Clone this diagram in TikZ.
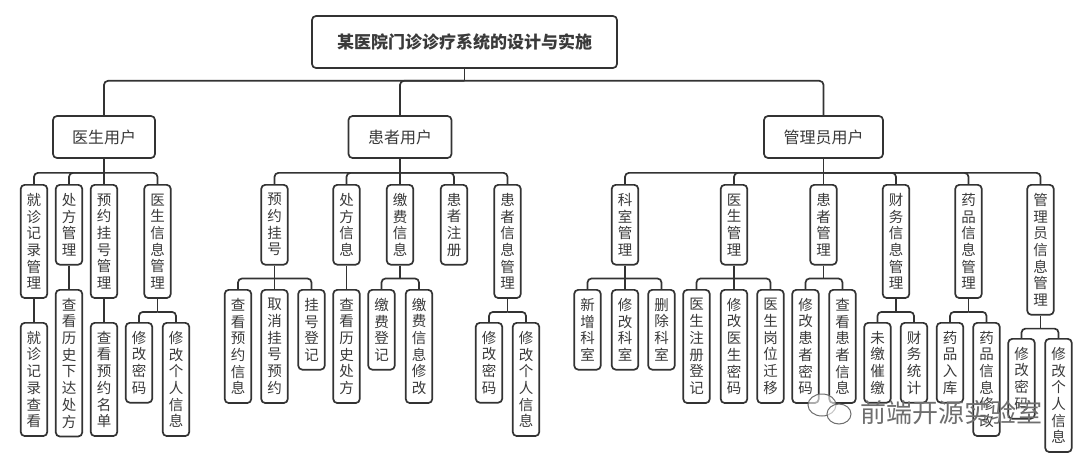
\documentclass[tikz,border=0pt]{standalone}
\usepackage{fontspec}
\setmainfont{Noto Sans CJK SC}
\usetikzlibrary{calc}
\definecolor{linec}{HTML}{333333}
\definecolor{textc}{HTML}{3A3A3A}
\definecolor{wmc}{HTML}{6E6E6E}
\tikzset{
  box/.style={draw=linec, line width=1.7pt, rounded corners=4pt, fill=white, text=textc, inner sep=0pt},
  vb/.style={box, anchor=north, minimum width=26.5pt, minimum height={(16.7*#1+13)*1pt}, align=center, font=\fontsize{14.5}{16.7}\selectfont},
  conn/.style={draw=linec, line width=1.7pt, rounded corners=4pt},
  lone/.style={box, minimum height=42pt, font=\fontsize{16}{19}\selectfont},
}
\begin{document}
\begin{tikzpicture}[x=1pt,y=-1pt]
\fill[white] (0,0) rectangle (1080,460);
\useasboundingbox (0,0) rectangle (1080,460);

% root and level 1
\node[box, minimum width=305pt, minimum height=52pt, font=\fontsize{17}{20}\selectfont\bfseries] (root) at (464.5,42) {某医院门诊诊疗系统的设计与实施};
\node[lone, minimum width=102pt] (d) at (104,137) {医生用户};
\node[lone, minimum width=103pt] (p) at (400,137) {患者用户};
\node[lone, minimum width=119pt] (a) at (823.5,137) {管理员用户};

% level 2 doctor
\node[vb=6] (d1) at (34,184) {就\\诊\\记\\录\\管\\理};
\node[vb=4] (d2) at (69,184) {处\\方\\管\\理};
\node[vb=6] (d3) at (104,184) {预\\约\\挂\\号\\管\\理};
\node[vb=6] (d4) at (157.5,184) {医\\生\\信\\息\\管\\理};
% level 2 patient
\node[vb=4] (p1) at (274.5,184) {预\\约\\挂\\号};
\node[vb=4] (p2) at (346.5,184) {处\\方\\信\\息};
\node[vb=4] (p3) at (400,184) {缴\\费\\信\\息};
\node[vb=4] (p4) at (454,184) {患\\者\\注\\册};
\node[vb=6] (p5) at (507.5,184) {患\\者\\信\\息\\管\\理};
% level 2 admin
\node[vb=4] (a1) at (625,184) {科\\室\\管\\理};
\node[vb=4] (a2) at (734,184) {医\\生\\管\\理};
\node[vb=4] (a3) at (823.5,184) {患\\者\\管\\理};
\node[vb=6] (a4) at (896,184) {财\\务\\信\\息\\管\\理};
\node[vb=6] (a5) at (968.5,184) {药\\品\\信\\息\\管\\理};
\node[vb=7] (a6) at (1040.5,184) {管\\理\\员\\信\\息\\管\\理};

% level 3 doctor
\node[vb=6] (d11) at (34,322) {就\\诊\\记\\录\\查\\看};
\node[vb=8] (d21) at (69,289) {查\\看\\历\\史\\下\\达\\处\\方};
\node[vb=6] (d31) at (104,322) {查\\看\\预\\约\\名\\单};
\node[vb=4] (d41) at (139,322) {修\\改\\密\\码};
\node[vb=6] (d42) at (176,322) {修\\改\\个\\人\\信\\息};
% level 3 patient
\node[vb=6] (p11) at (238,289) {查\\看\\预\\约\\信\\息};
\node[vb=6] (p12) at (274.5,289) {取\\消\\挂\\号\\预\\约};
\node[vb=4] (p13) at (311.5,289) {挂\\号\\登\\记};
\node[vb=6] (p21) at (346.5,289) {查\\看\\历\\史\\处\\方};
\node[vb=4] (p31) at (381.5,289) {缴\\费\\登\\记};
\node[vb=6] (p32) at (419,289) {缴\\费\\信\\息\\修\\改};
\node[vb=4] (p51) at (489,322) {修\\改\\密\\码};
\node[vb=6] (p52) at (526,322) {修\\改\\个\\人\\信\\息};
% level 3 admin
\node[vb=4] (a11) at (587.5,289) {新\\增\\科\\室};
\node[vb=4] (a12) at (625,289) {修\\改\\科\\室};
\node[vb=4] (a13) at (661.5,289) {删\\除\\科\\室};
\node[vb=6] (a21) at (696.5,289) {医\\生\\注\\册\\登\\记};
\node[vb=6] (a22) at (734,289) {修\\改\\医\\生\\密\\码};
\node[vb=6] (a23) at (770.5,289) {医\\生\\岗\\位\\迁\\移};
\node[vb=6] (a31) at (805.5,289) {修\\改\\患\\者\\密\\码};
\node[vb=6] (a32) at (842.5,289) {查\\看\\患\\者\\信\\息};
\node[vb=4] (a41) at (877.5,322) {未\\缴\\催\\缴};
\node[vb=4] (a42) at (914,322) {财\\务\\统\\计};
\node[vb=4] (a51) at (950,322) {药\\品\\入\\库};
\node[vb=6] (a52) at (986.5,322) {药\\品\\信\\息\\修\\改};
\node[vb=4] (a61) at (1021.5,338) {修\\改\\密\\码};
\node[vb=6] (a62) at (1058.5,338) {修\\改\\个\\人\\信\\息};

% connectors root -> level 1
\coordinate (rB) at ($(root.south)+(0,12)$);
\draw[conn] (root.south) -- (rB);
\foreach \c in {d,p,a} \draw[conn] (rB) -| (\c.north);

% level 1 -> level 2
\coordinate (dB) at ($(d.south)+(0,14)$);
\draw[conn] (d.south) -- (d3.north);
\foreach \c in {d1,d2,d4} \draw[conn] (dB) -| (\c.north);
\coordinate (pB) at ($(p.south)+(0,14)$);
\draw[conn] (p.south) -- (p3.north);
\foreach \c in {p1,p2,p4,p5} \draw[conn] (pB) -| (\c.north);
\coordinate (aB) at ($(a.south)+(0,14)$);
\draw[conn] (a.south) -- (a3.north);
\foreach \c in {a1,a2,a4,a5,a6} \draw[conn] (aB) -| (\c.north);

% level 2 -> level 3
\draw[conn] (d1.south) -- (d11.north);
\draw[conn] (d2.south) -- (d21.north);
\draw[conn] (d3.south) -- (d31.north);
\draw[conn] (p2.south) -- (p21.north);
\draw[conn] (p1.south) -- (p12.north);
\draw[conn] (a1.south) -- (a12.north);
\draw[conn] (a2.south) -- (a22.north);
\foreach \pp/\kids in {d4/{d41,d42}, p1/{p11,p13}, p3/{p31,p32}, p5/{p51,p52}, a1/{a11,a13}, a2/{a21,a23}, a3/{a31,a32}, a4/{a41,a42}, a5/{a51,a52}, a6/{a61,a62}} {
  \coordinate (B) at ($(\pp.south)+(0,13)$);
  \draw[conn] (\pp.south) -- (B);
  \foreach \c in \kids \draw[conn] (B) -| (\c.north);
}

% watermark
\draw[wmc, line width=1pt, fill=white, fill opacity=0.6] (822,405) ellipse [x radius=14, y radius=11];
\draw[wmc, line width=1pt, fill=white, fill opacity=0.6] (839,414) ellipse [x radius=12, y radius=10];
\node[text=wmc, font=\fontsize{26}{28}\selectfont, inner sep=0pt] (wm) at (951,413) {前端开源实验室};
\end{tikzpicture}
\end{document}
